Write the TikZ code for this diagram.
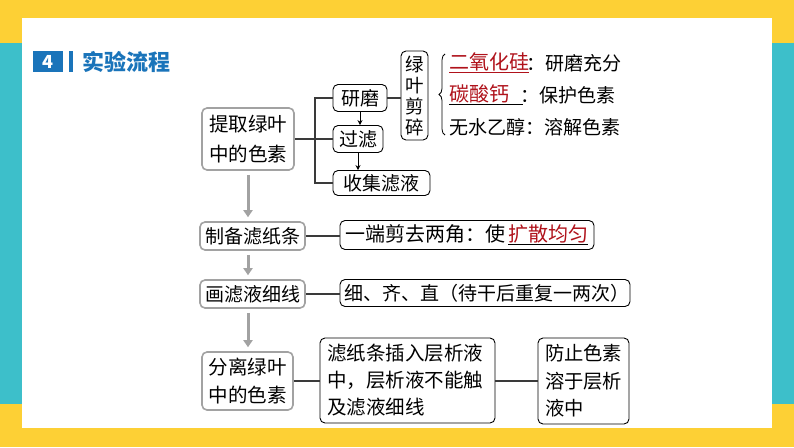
\documentclass[tikz,border=0pt]{standalone}
\usepackage{fontspec}
\newfontfamily\cjk{Noto Sans CJK SC}
\usetikzlibrary{arrows.meta,decorations.pathreplacing}
\definecolor{bgyellow}{HTML}{FDD035}
\definecolor{bgteal}{HTML}{3DBFCA}
\definecolor{titleblue}{HTML}{1A74BA}
\definecolor{grayline}{HTML}{A2A2A2}
\definecolor{keyred}{HTML}{B0121B}
\definecolor{darkline}{HTML}{3A3A3A}
\newcommand\fsz[2]{\fontsize{#1}{#2}\selectfont}
\begin{document}
\begin{tikzpicture}[x=1pt,y=-1pt,
  graybox/.style={draw=grayline, line width=1.6pt, rounded corners=5pt, inner xsep=0pt, inner ysep=0pt, align=center},
  blackbox/.style={draw=black, line width=0.9pt, rounded corners=5pt, inner xsep=0pt, inner ysep=0pt},
  conn/.style={draw=darkline, line width=1.2pt},
  garrow/.style={draw=grayline, line width=3pt, -{Triangle[width=9pt,length=7pt]}, shorten <=4pt, shorten >=4pt},
  sarrow/.style={draw=black, line width=0.8pt, -{Stealth[width=5pt,length=5pt]}},
  plain/.style={inner sep=0pt, anchor=west, font=\cjk\fsz{19}{19}}
]
\path[use as bounding box] (0,0) rectangle (794,447);
% frame
\fill[bgyellow] (0,0) rectangle (794,447);
\fill[bgteal] (0,43) rectangle (794,404);
\fill[white] (22,18) rectangle (772,428);

% title
\node[fill=titleblue, minimum width=30pt, minimum height=21pt, inner sep=0pt, text=white, font=\cjk\bfseries\fsz{18}{18}] (num) at (48,61.5) {4};
\node[fill=titleblue, minimum width=4pt, minimum height=21pt, inner sep=0pt] (bar) at (71,61.5) {};
\node[anchor=west, inner sep=0pt, text=titleblue, font=\cjk\bfseries\fsz{22}{22}] (title) at (82,62) {实验流程};

% step 1
\node[graybox, minimum width=92pt, minimum height=62pt, font=\cjk\fsz{19.5}{30}] (tiqu) at (248,139) {提取绿叶\\中的色素};
\node[blackbox, minimum width=54pt, minimum height=27pt, font=\cjk\fsz{19}{19}] (yanmo) at (360,98) {研磨};
\node[blackbox, minimum width=50pt, minimum height=27pt, font=\cjk\fsz{19}{19}] (guolv) at (358,139) {过滤};
\node[blackbox, minimum width=97pt, minimum height=25pt, font=\cjk\fsz{19}{19}] (shouji) at (381.5,183) {收集滤液};
\node[blackbox, minimum width=27pt, minimum height=89pt, align=center, font=\cjk\fsz{18.5}{21}] (suisui) at (414.5,95.5) {绿\\叶\\剪\\碎};
\coordinate (vx) at (315,0);
\draw[conn] (tiqu.east) -- (guolv.west);
\draw[conn] (yanmo.west) -- (yanmo.west -| vx) -- (shouji.west -| vx) -- (shouji.west);
\draw[conn] (yanmo.east) -- (suisui.west |- yanmo.east);
\draw[sarrow] (yanmo.south) -- (yanmo.south |- guolv.north);
\draw[sarrow] (guolv.south) -- (guolv.south |- shouji.north);

\coordinate (brb) at (445,135);
\coordinate (brt) at (445,54);
\draw[black, line width=0.8pt, decorate, decoration={brace, amplitude=6pt}] (brb) -- (brt);

\node[plain, font=\cjk\fsz{20}{20}] (sio) at (449,63) {\textcolor{keyred}{\underline{二氧化硅}}};
\node[plain] (sio2) at (sio.east) {\hspace{-3pt}：研磨充分};
\node[plain, font=\cjk\fsz{20}{20}] (caco) at (449,95) {\underline{\textcolor{keyred}{碳酸钙}\hspace{14pt}}};
\node[plain] (caco2) at (caco.east) {\hspace{-3pt}：保护色素};
\node[plain] (eth) at (449,127) {无水乙醇：溶解色素};

% step 2
\node[graybox, minimum width=105pt, minimum height=28pt, font=\cjk\fsz{19}{19}] (zhibei) at (252.5,236) {制备滤纸条};
\node[blackbox, minimum width=254pt, minimum height=29pt, inner xsep=5pt, text width=244pt, align=left, font=\cjk\fsz{20}{20}] (duan) at (467,235) {一端剪去两角：使\,\underline{\textcolor{keyred}{扩散均匀}}};
\draw[conn] (zhibei.east) -- (duan.west |- zhibei.east);

% step 3
\node[graybox, minimum width=105pt, minimum height=28pt, font=\cjk\fsz{19}{19}] (huaxian) at (252.5,294) {画滤液细线};
\node[blackbox, minimum width=290pt, minimum height=27pt, inner xsep=4pt, text width=282pt, align=left, font=\cjk\fsz{19}{19}] (xi) at (485,293) {细、齐、直（待干后重复一两次）};
\draw[conn] (huaxian.east) -- (xi.west |- huaxian.east);

% step 4
\node[graybox, minimum width=91pt, minimum height=58pt, font=\cjk\fsz{19.5}{28}] (fenli) at (247.5,381) {分离绿叶\\中的色素};
\node[blackbox, minimum width=175pt, minimum height=85pt, inner xsep=7pt, text width=161pt, align=left, font=\cjk\fsz{19.5}{27}] (lvzhi) at (407.5,380.5) {滤纸条插入层析液\\中，层析液不能触\\及滤液细线};
\node[blackbox, minimum width=91pt, minimum height=86pt, inner xsep=7pt, text width=77pt, align=left, font=\cjk\fsz{19.3}{27.5}] (fangzhi) at (583.5,381) {防止色素\\溶于层析\\液中};
\draw[conn] (fenli.east) -- (lvzhi.west |- fenli.east);
\draw[conn] (lvzhi.east |- fenli.east) -- (fangzhi.west |- fenli.east);

% gray arrows
\draw[garrow] (tiqu.south) -- (tiqu.south |- zhibei.north);
\draw[garrow] (tiqu.south |- zhibei.south) -- (tiqu.south |- huaxian.north);
\draw[garrow] (tiqu.south |- huaxian.south) -- (tiqu.south |- fenli.north);
\end{tikzpicture}
\end{document}
